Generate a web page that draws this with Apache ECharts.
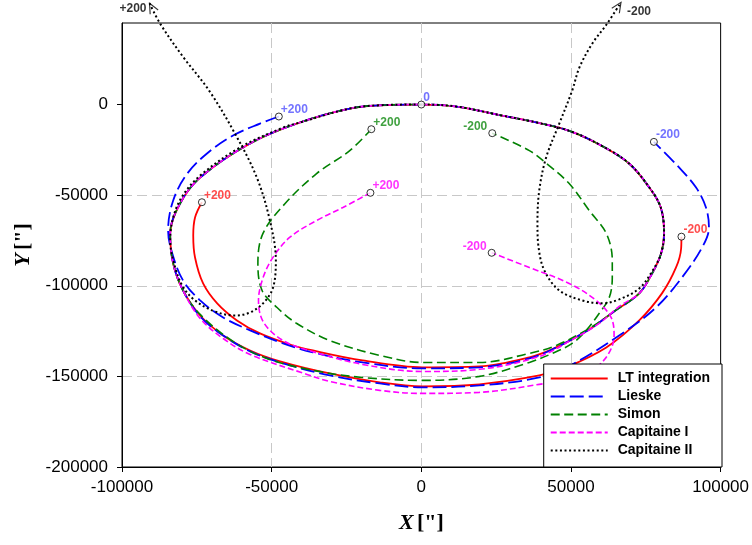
<!DOCTYPE html>
<html>
<head>
<meta charset="utf-8">
<title>Pole path</title>
<script src="https://cdn.jsdelivr.net/npm/echarts@6/dist/echarts.min.js"></script>
<style>
  html, body { margin: 0; padding: 0; background: #fff; }
  #main { width: 752px; height: 545px; }
</style>
</head>
<body>
<div id="main"></div>
<script>
var X_TICKS = [-100000, -50000, 0, 50000, 100000];
var Y_TICKS = [-200000, -150000, -100000, -50000, 0];
var SERIES_NAMES = ['LT integration', 'Lieske', 'Simon', 'Capitaine I', 'Capitaine II'];
var START_TEXT = '+200';
var END_TEXT = '-200';
var ZERO_TEXT = '0';
var ZERO_POINT = [0, 0];

// common turn: right side -> top (0) -> left side
var MAIN_TURN = [
    [72800, -104200], [77100, -93200], [80100, -82200], [81100, -71100], [80000, -56800],
    [76100, -45600], [69400, -32500], [60400, -22900], [50100, -14900], [39400, -10200],
    [26100, -5800], [11700, -1100], [0, 0], [-13900, -400], [-23900, -2200],
    [-40600, -9900], [-57200, -21500], [-73900, -40300], [-80600, -54600], [-83900, -71100],
    [-82900, -87700], [-79600, -102600]
];

// LT integration
var LT_START = [
    [-73300, -53900], [-75600, -62300], [-76200, -72200], [-75600, -84400], [-72900, -98700],
    [-68200, -109700], [-61600, -119100], [-53900, -126300], [-43900, -132400], [-36200, -135700],
    [-19600, -141200], [400, -145000], [19400, -144500], [36100, -139500], [45100, -134000],
    [56100, -124100], [64400, -114200]
];
var LT_END = [
    [-73900, -116400], [-66200, -127400], [-57200, -135700], [-47200, -141700], [-30600, -148400],
    [-13900, -153300], [400, -155500], [19400, -154400], [39400, -149500], [48400, -145000],
    [61800, -134000], [72800, -119100], [80400, -104200], [85100, -89900], [86800, -79400],
    [86900, -72900]
];

// Lieske
var LIESKE_START = [
    [-47600, -6600], [-53900, -10500], [-62900, -17100], [-71600, -27000], [-78200, -38100],
    [-82900, -52900], [-84600, -69500], [-83200, -82200], [-79600, -97100], [-73900, -108100],
    [-66200, -117500], [-57200, -124600], [-46200, -131800], [-36200, -136800], [-19600, -142300],
    [400, -145600], [19400, -145000], [36100, -140100], [45100, -134000], [56100, -124100],
    [64400, -114200]
];
var LIESKE_END = [
    [-73900, -116900], [-66200, -127400], [-57200, -136200], [-47200, -142300], [-30600, -149500],
    [-13900, -153900], [400, -156100], [19400, -155000], [39400, -150600], [50400, -143400],
    [67100, -126300], [78400, -112000], [87100, -95400], [93800, -78900], [96100, -67800],
    [95100, -56800], [91800, -45800], [86100, -34700], [77700, -20600]
];

// Simon
var SIMON_START = [
    [-16700, -13600], [-23900, -25400], [-35000, -38100], [-45500, -54600], [-52900, -71100],
    [-54600, -87700], [-53200, -102600], [-48200, -112000], [-41600, -120800], [-30600, -130200],
    [-13900, -138400], [400, -142300], [19400, -142300], [36100, -137300], [45100, -132900],
    [56100, -123500], [64400, -114200]
];
var SIMON_END = [
    [-73900, -115800], [-62900, -130700], [-51600, -140100], [-36200, -146700], [-19600, -150600],
    [400, -152200], [19400, -150000], [36100, -142300], [43800, -137300], [50400, -131800],
    [55100, -124600], [59400, -115300], [62800, -106400], [63800, -95400], [63800, -86000],
    [61800, -71100], [56100, -58500], [49400, -43600], [41800, -32500], [36100, -25400],
    [23700, -15800]
];

// Capitaine I
var CAP1_START = [
    [-17000, -48700], [-26200, -56800], [-35000, -64000], [-43900, -73200], [-49500, -84200],
    [-52800, -95200], [-54400, -108100], [-52700, -120200], [-46200, -130200], [-37200, -135900],
    [-19600, -143400], [400, -147300], [19400, -146100], [39400, -139000], [50400, -129700],
    [59400, -120800], [66100, -111400]
];
var CAP1_END = [
    [-73900, -118000], [-66200, -129100], [-57200, -137900], [-38200, -148900], [-30600, -152800],
    [-13900, -157700], [400, -159400], [19400, -158800], [39400, -154400], [51100, -150600],
    [58400, -145000], [62800, -136800], [64400, -127400], [63400, -117500], [58400, -108100],
    [49400, -98700], [36100, -89900], [23500, -81800]
];

// Capitaine II (runs out of the frame at both ends)
var CAP2 = [
    [-90800, 55900], [-87200, 44500], [-79500, 26100], [-70900, 7700], [-62200, -16200],
    [-55000, -40100], [-50600, -64000], [-48600, -86000], [-49500, -100800], [-52600, -109200],
    [-57200, -114700], [-62200, -116400], [-68900, -114200], [-75600, -108100], [-79900, -99800],
    [-82600, -87700], [-83900, -75000], [-82900, -62300], [-79900, -50700], [-73900, -39200],
    [-60600, -23700], [-46200, -12700], [-40600, -9900], [-23900, -2200], [-13900, -400],
    [0, 0], [11700, -1100], [26100, -5800], [39400, -10200], [50100, -14900],
    [60400, -22900], [69400, -32500], [76100, -45600], [80000, -56800], [81100, -71100],
    [80100, -82200], [77100, -92100], [72800, -101500], [66100, -107500], [60400, -109700],
    [53800, -108100], [46100, -102600], [41100, -91500], [39100, -77800], [38800, -65600],
    [39400, -47400], [41700, -29200], [46100, -10500], [50400, 7700], [52800, 20400],
    [57100, 33600], [62100, 44700], [66700, 56400]
];

var FONT = 'Arial, "Liberation Sans", sans-serif';
var SERIF = '"Times New Roman", "Liberation Serif", serif';
var ARROW_ROTATE = [27.5, -32.7];
var LABEL_RIGHT = { position: 'right', distance: 0, offset: [-2, -7] };
var LABEL_LEFT = { position: 'left', distance: 1, offset: [0, -6] };

function curve(name, pts, color, dash, width) {
    return {
        type: 'line',
        name: name,
        data: pts,
        smooth: 0.35,
        symbol: 'none',
        clip: false,
        silent: true,
        lineStyle: { color: color, type: dash, width: width },
        itemStyle: { color: color }
    };
}

function markers(color, items) {
    return {
        type: 'scatter',
        symbol: 'circle',
        symbolSize: 7,
        z: 5,
        silent: true,
        itemStyle: { color: '#fff', borderColor: '#000', borderWidth: 1 },
        label: {
            show: true, color: color, fontSize: 12, fontWeight: 'bold', fontFamily: FONT,
            formatter: function (p) { return p.data.text; }
        },
        data: items.map(function (it) {
            return { value: it[0], text: it[1], label: it[2] == 'left' ? LABEL_LEFT : LABEL_RIGHT };
        })
    };
}

// plain numbers, no thousands separator
function plain(v) {
    return String(v);
}

var cap2Ends = [CAP2[0], CAP2[CAP2.length - 1]];

var series = [
    curve(SERIES_NAMES[0], LT_START.concat(MAIN_TURN, LT_END), '#ff0000', 'solid', 1.8),
    curve(SERIES_NAMES[1], LIESKE_START.concat(MAIN_TURN, LIESKE_END), '#0000ff', [14, 5], 1.8),
    curve(SERIES_NAMES[2], SIMON_START.concat(MAIN_TURN, SIMON_END), '#008000', [9, 4.5], 1.6),
    curve(SERIES_NAMES[3], CAP1_START.concat(MAIN_TURN, CAP1_END), '#ff00ff', [6, 3], 1.6),
    curve(SERIES_NAMES[4], CAP2, '#000000', [2, 2.6], 2),
    markers('#ff2020', [[LT_START[0], START_TEXT, 'right'], [LT_END[LT_END.length - 1], END_TEXT, 'right']]),
    markers('#5050ff', [[LIESKE_START[0], START_TEXT, 'right'], [ZERO_POINT, ZERO_TEXT, 'right'],
        [LIESKE_END[LIESKE_END.length - 1], END_TEXT, 'right']]),
    markers('#108a10', [[SIMON_START[0], START_TEXT, 'right'], [SIMON_END[SIMON_END.length - 1], END_TEXT, 'left']]),
    markers('#ff00ff', [[CAP1_START[0], START_TEXT, 'right'], [CAP1_END[CAP1_END.length - 1], END_TEXT, 'left']]),
    // arrow heads of Capitaine II
    {
        type: 'scatter',
        silent: true,
        clip: false,
        z: 5,
        symbol: 'path://M0,10L5,0L10,10',
        symbolSize: [9, 10],
        itemStyle: { color: 'rgba(0,0,0,0)', borderColor: '#000', borderWidth: 1.2 },
        data: cap2Ends.map(function (p, i) {
            var a = ARROW_ROTATE[i] * Math.PI / 180;
            return { value: p, symbolRotate: ARROW_ROTATE[i], symbolOffset: [5 * Math.sin(a), 5 * Math.cos(a)] };
        })
    },
    {
        type: 'scatter',
        silent: true,
        clip: false,
        z: 5,
        symbol: 'circle',
        symbolSize: 0.1,
        itemStyle: { color: 'rgba(0,0,0,0)' },
        label: {
            show: true, color: '#000', fontSize: 12, fontWeight: 'bold', fontFamily: FONT,
            formatter: function (p) { return p.data.text; }
        },
        data: [
            { value: cap2Ends[0], text: START_TEXT, label: { position: 'left', distance: 3, offset: [0, 5] } },
            { value: cap2Ends[1], text: END_TEXT, label: { position: 'right', distance: 6, offset: [0, 9] } }
        ]
    }
];

var chart = echarts.init(document.getElementById('main'));
chart.setOption({
    animation: false,
    backgroundColor: '#fff',
    grid: {
        left: 122, right: 30, top: 23, bottom: 78,
        show: true, borderColor: '#000', borderWidth: 1, backgroundColor: 'rgba(0,0,0,0)'
    },
    legend: {
        data: SERIES_NAMES,
        orient: 'vertical',
        right: 30,
        bottom: 78,
        backgroundColor: '#fff',
        borderColor: '#000',
        borderWidth: 1,
        borderRadius: 0,
        padding: [7, 12, 9, 6],
        itemGap: 3,
        itemWidth: 57,
        itemHeight: 15,
        selectedMode: false,
        itemStyle: { opacity: 0 },
        textStyle: { color: '#000', fontSize: 14, fontWeight: 'bold', fontFamily: FONT, lineHeight: 15, padding: [0, 0, 0, 5] }
    },
    xAxis: {
        type: 'value',
        min: X_TICKS[0],
        max: X_TICKS[X_TICKS.length - 1],
        interval: 50000,
        axisLine: { show: true, onZero: false, lineStyle: { color: '#000', width: 1 } },
        axisTick: { show: true, length: 5, lineStyle: { color: '#000' } },
        axisLabel: { color: '#000', fontSize: 17, fontFamily: FONT, margin: 12, formatter: plain },
        splitLine: { show: true, showMinLine: false, showMaxLine: false, lineStyle: { color: '#c8c8c8', type: [10, 5] } },
        name: '{i|X} {b|["]}',
        nameLocation: 'middle',
        nameGap: 45,
        nameTextStyle: {
            rich: {
                i: { fontFamily: SERIF, fontStyle: 'italic', fontWeight: 'bold', fontSize: 22, color: '#000' },
                b: { fontFamily: SERIF, fontWeight: 'bold', fontSize: 22, color: '#000' }
            }
        }
    },
    yAxis: {
        type: 'value',
        min: Y_TICKS[0],
        max: 45000,
        interval: 50000,
        axisLine: { show: true, onZero: false, lineStyle: { color: '#000', width: 1 } },
        axisTick: { show: true, length: 5, customValues: Y_TICKS, lineStyle: { color: '#000' } },
        axisLabel: { color: '#000', fontSize: 17, fontFamily: FONT, margin: 14, customValues: Y_TICKS, formatter: plain },
        splitLine: { show: true, showMinLine: false, showMaxLine: false, lineStyle: { color: '#c8c8c8', type: [10, 5] } },
        name: '{i|Y} {b|["]}',
        nameLocation: 'middle',
        nameGap: 86,
        nameTextStyle: {
            rich: {
                i: { fontFamily: SERIF, fontStyle: 'italic', fontWeight: 'bold', fontSize: 22, color: '#000' },
                b: { fontFamily: SERIF, fontWeight: 'bold', fontSize: 22, color: '#000' }
            }
        }
    },
    series: series
});
</script>
</body>
</html>
